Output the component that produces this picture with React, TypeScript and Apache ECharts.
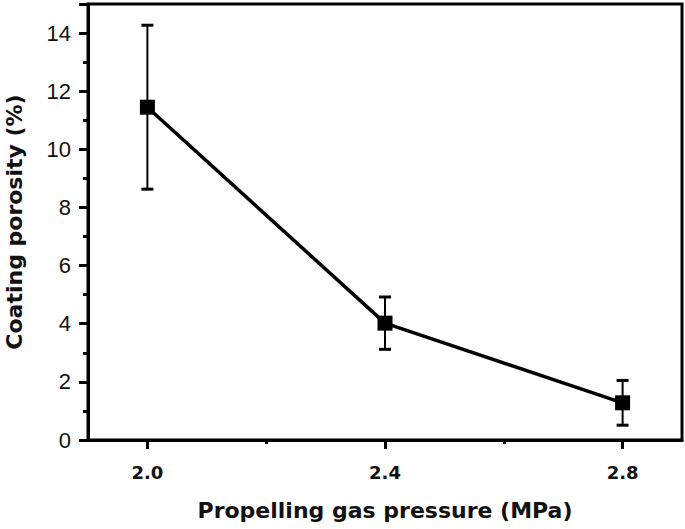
import React, { useEffect, useRef } from "react";
import * as echarts from "echarts";

const pressures = [2.0, 2.4, 2.8];
const porosity = [11.45, 4.02, 1.28];
const errors = [2.82, 0.9, 0.77];
const xTickLabels = [2.0, 2.4, 2.8];
const xMinorTicks = [2.2, 2.6];

const FONT = "Liberation Sans, Arial, Helvetica, sans-serif";
const BOLDFONT = "DejaVu Sans, Liberation Sans, Arial, sans-serif";

export default function App() {
  const ref = useRef<HTMLDivElement>(null);
  useEffect(() => {
    if (!ref.current) return;
    const chart = echarts.init(ref.current, null, { renderer: "svg" });
    const lineData = pressures.map((p, i) => [p, porosity[i]]);
    const errData = pressures.map((p, i) => [p, porosity[i] - errors[i], porosity[i] + errors[i]]);
    chart.setOption({
      animation: false,
      backgroundColor: "#fff",
      grid: {
        left: 88,
        right: 3,
        top: 4,
        bottom: 89,
        outerBoundsMode: "none",
        containLabel: false,
        show: true,
        borderColor: "#000",
        borderWidth: 3,
        backgroundColor: "transparent",
      },
      xAxis: [
        {
          type: "value",
          min: 1.9,
          max: 2.9,
          name: "Propelling gas pressure (MPa)",
          nameLocation: "middle",
          nameGap: 59,
          nameTextStyle: { fontFamily: BOLDFONT, fontWeight: "bold", fontSize: 22, color: "#111" },
          axisLine: { show: true, lineStyle: { color: "#000", width: 3 } },
          axisTick: { show: true, inside: false, length: 9, lineStyle: { color: "#000", width: 3 }, customValues: xTickLabels },
          axisLabel: {
            customValues: xTickLabels,
            formatter: (v: number) => v.toFixed(1),
            fontFamily: BOLDFONT,
            fontWeight: "bold",
            fontSize: 18,
            color: "#111",
            margin: 23,
          },
          splitLine: { show: false },
        },
        {
          type: "value",
          min: 1.9,
          max: 2.9,
          position: "bottom",
          axisLine: { show: false },
          axisTick: { show: true, length: 4, lineStyle: { color: "#000", width: 3 }, customValues: xMinorTicks },
          axisLabel: { show: false },
          splitLine: { show: false },
        },
      ],
      yAxis: {
        type: "value",
        min: 0,
        max: 15,
        interval: 2,
        name: "Coating porosity (%)",
        nameLocation: "middle",
        nameGap: 63,
        nameTextStyle: { fontFamily: BOLDFONT, fontWeight: "bold", fontSize: 22, color: "#111" },
        axisLine: { show: true, lineStyle: { color: "#000", width: 3 } },
        axisTick: { show: true, length: 9, lineStyle: { color: "#000", width: 3 } },
        minorTick: { show: true, splitNumber: 2, length: 5, lineStyle: { color: "#000", width: 3 } },
        axisLabel: {
          fontFamily: FONT,
          fontSize: 22,
          color: "#111",
          margin: 17,
          formatter: (v: number) => (v > 14 ? "" : String(v)),
        },
        splitLine: { show: false },
      },
      series: [
        {
          type: "custom",
          xAxisIndex: 0,
          data: errData,
          renderItem: (params: any, api: any) => {
            const x = api.value(0);
            const lo = api.coord([x, api.value(1)]);
            const hi = api.coord([x, api.value(2)]);
            const cap = 6;
            const style = { stroke: "#000", lineWidth: 2 };
            return {
              type: "group",
              children: [
                { type: "line", shape: { x1: lo[0], y1: lo[1], x2: hi[0], y2: hi[1] }, style },
                { type: "line", shape: { x1: lo[0] - cap, y1: lo[1], x2: lo[0] + cap, y2: lo[1] }, style: { stroke: "#000", lineWidth: 3 } },
                { type: "line", shape: { x1: hi[0] - cap, y1: hi[1], x2: hi[0] + cap, y2: hi[1] }, style: { stroke: "#000", lineWidth: 3 } },
              ],
            };
          },
          z: 2,
        },
        {
          type: "line",
          xAxisIndex: 0,
          data: lineData,
          symbol: "rect",
          symbolSize: 15,
          itemStyle: { color: "#000" },
          lineStyle: { color: "#000", width: 3.5 },
          z: 3,
        },
      ],
    });
    return () => chart.dispose();
  }, []);
  return <div ref={ref} style={{ width: 685, height: 529, position: "absolute", left: 0, top: 0 }} />;
}
